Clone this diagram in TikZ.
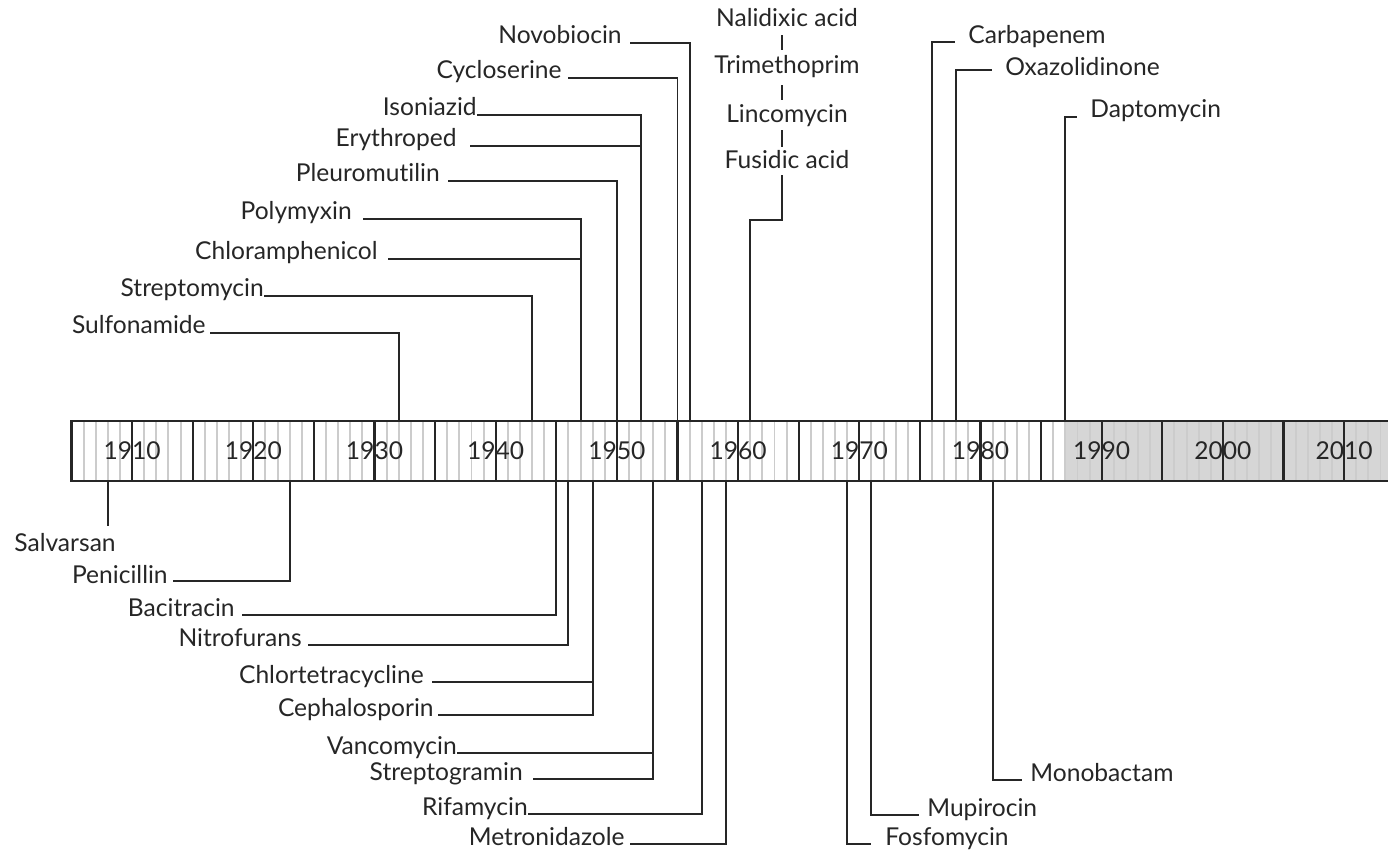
\documentclass[tikz,border=0pt]{standalone}
\usepackage{fontspec}
\setmainfont{Lato}[Ligatures=NoCommon]
\usetikzlibrary{calc}
\tikzstyle{drug}=[inner sep=0pt, text=black!85, font=\fontsize{14}{17}\selectfont]
\tikzstyle{link}=[line width=1.1pt, black!85]
\tikzstyle{decade}=[line width=1.2pt, black!85]
\tikzstyle{minor}=[line width=1.1pt, black!20]

\begin{document}
\begin{tikzpicture}[x=0.02cm, y=-0.02cm]
\useasboundingbox (0,0) rectangle (1388,852);

\foreach \yr in {1905,...,2015} {
  \coordinate (top\yr) at ({71.5+(\yr-1905)*12.12},421);
  \coordinate (bot\yr) at ({71.5+(\yr-1905)*12.12},481);
}

\fill[black!16] (top1987) rectangle (bot2015);
\foreach \yr in {1906,...,2014} \draw[minor] (top\yr) -- (bot\yr);
\foreach \yr [evaluate=\yr as \nx using int(\yr+10)] in {1905,1915,...,2005}
  \draw[decade] (top\yr) rectangle (bot\nx);
\foreach \yr in {1910,1920,...,2010} {
  \draw[decade] (top\yr) -- (bot\yr);
  \node[drug] (y\yr) at ($(top\yr)!0.5!(bot\yr)$) {\yr};
}

\node[drug, anchor=base east] (novobiocin) at (622,43) {Novobiocin};
\node[drug, anchor=base east] (cycloserine) at (562,78) {Cycloserine};
\node[drug, anchor=base east] (isoniazid) at (477,115) {Isoniazid};
\node[drug, anchor=base east] (erythroped) at (457,146) {Erythroped};
\node[drug, anchor=base east] (pleuromutilin) at (440,181) {Pleuromutilin};
\node[drug, anchor=base east] (polymyxin) at (352,219) {Polymyxin};
\node[drug, anchor=base east] (chloramphenicol) at (378,259) {Chloramphenicol};
\node[drug, anchor=base east] (streptomycin) at (264,296) {Streptomycin};
\node[drug, anchor=base east] (sulfonamide) at (206,333) {Sulfonamide};

\draw[link] ($(novobiocin.base east)+(8,0)$) -| (top1956);
\draw[link] ($(cycloserine.base east)+(6,0)$) -| (top1955);
\draw[link] (isoniazid.base east) -| (top1952);
\draw[link] ($(erythroped.base east)+(13,0)$) -| (top1952);
\draw[link] ($(pleuromutilin.base east)+(8,0)$) -| (top1950);
\draw[link] ($(polymyxin.base east)+(11,0)$) -| (top1947);
\draw[link] ($(chloramphenicol.base east)+(10,0)$) -| (top1947);
\draw[link] (streptomycin.base east) -| (top1943);
\draw[link] ($(sulfonamide.base east)+(4,0)$) -| (top1932);

\node[drug, anchor=base] (nalidixic) at (787,27) {Nalidixic acid};
\node[drug, anchor=base] (trimethoprim) at (787,73) {Trimethoprim};
\node[drug, anchor=base] (lincomycin) at (787,122) {Lincomycin};
\node[drug, anchor=base] (fusidic) at (787,168) {Fusidic acid};

\draw[link] ($(nalidixic.base)+(-5,8)$) -- ($(trimethoprim.base)+(-5,-23)$);
\draw[link] ($(trimethoprim.base)+(-5,12)$) -- ($(lincomycin.base)+(-5,-22)$);
\draw[link] ($(lincomycin.base)+(-5,8)$) -- ($(fusidic.base)+(-5,-21)$);
\draw[link] ($(fusidic.base)+(-5,7)$) |- ($(top1961)+(0,-201)$) -- (top1961);

\node[drug, anchor=base west] (carbapenem) at (968,43) {Carbapenem};
\node[drug, anchor=base west] (oxazolidinone) at (1005,75) {Oxazolidinone};
\node[drug, anchor=base west] (daptomycin) at (1090,117) {Daptomycin};

\draw[link] (top1976) |- ($(carbapenem.base west)+(-13,-1)$);
\draw[link] (top1978) |- ($(oxazolidinone.base west)+(-13,-5)$);
\draw[link] (top1987) |- ($(daptomycin.base west)+(-13,0)$);

\node[drug, anchor=base] (salvarsan) at (65,551) {Salvarsan};
\draw[link] (bot1908) -- ($(bot1908 |- salvarsan.north)+(0,-7)$);

\node[drug, anchor=base east] (penicillin) at (168,583) {Penicillin};
\node[drug, anchor=base east] (bacitracin) at (235,616) {Bacitracin};
\node[drug, anchor=base east] (nitrofurans) at (302,646) {Nitrofurans};
\node[drug, anchor=base east] (chlortetracycline) at (424,683) {Chlortetracycline};
\node[drug, anchor=base east] (cephalosporin) at (434,716) {Cephalosporin};
\node[drug, anchor=base east] (vancomycin) at (457,754) {Vancomycin};
\node[drug, anchor=base east] (streptogramin) at (523,780) {Streptogramin};
\node[drug, anchor=base east] (rifamycin) at (528,815) {Rifamycin};
\node[drug, anchor=base east] (metronidazole) at (625,845) {Metronidazole};

\draw[link] ($(penicillin.base east)+(5,-2)$) -| (bot1923);
\draw[link] ($(bacitracin.base east)+(7,-1)$) -| (bot1945);
\draw[link] ($(nitrofurans.base east)+(6,-1)$) -| (bot1946);
\draw[link] ($(chlortetracycline.base east)+(8,-1)$) -| (bot1948);
\draw[link] ($(cephalosporin.base east)+(4,-1)$) -| (bot1948);
\draw[link] ($(vancomycin.base east)+(0,-1)$) -| (bot1953);
\draw[link] ($(streptogramin.base east)+(10,-1)$) -| (bot1953);
\draw[link] ($(rifamycin.base east)+(0,-1)$) -| (bot1957);
\draw[link] ($(metronidazole.base east)+(5,-1)$) -| (bot1959);

\node[drug, anchor=base west] (fosfomycin) at (885,845) {Fosfomycin};
\node[drug, anchor=base west] (mupirocin) at (927,816) {Mupirocin};
\node[drug, anchor=base west] (monobactam) at (1030,781) {Monobactam};

\draw[link] (bot1969) |- ($(fosfomycin.base west)+(-14,-1)$);
\draw[link] (bot1971) |- ($(mupirocin.base west)+(-8,-1)$);
\draw[link] (bot1981) |- ($(monobactam.base west)+(-8,-1)$);

\end{tikzpicture}
\end{document}
